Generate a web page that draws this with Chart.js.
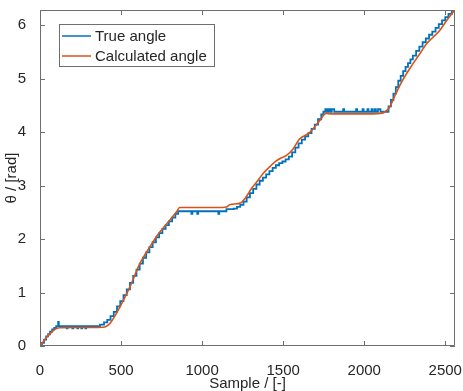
<!DOCTYPE html>
<html>
<head>
<meta charset="utf-8">
<script src="https://cdn.jsdelivr.net/npm/chart.js@4"></script>
<style>
  html, body { margin: 0; padding: 0; background: #fff; }
</style>
</head>
<body>
<canvas id="angleChart" width="463" height="391"></canvas>
<script>
// true angle (encoder, staircase)
var trueX = [0, 12, 25, 38, 50, 62, 75, 88, 100, 112, 116, 165, 170, 200, 205, 230, 235, 255, 260, 280, 285,
  370, 395, 415, 435, 455, 475, 495, 515, 535, 555, 575, 595, 615, 635, 655, 675, 695, 715, 735, 755, 775, 795, 815, 835, 852,
  934, 940, 970, 976, 1100, 1106, 1150, 1195, 1215, 1235, 1255, 1275, 1295, 1315, 1335, 1355, 1375, 1395, 1415, 1435, 1455,
  1475, 1495, 1515, 1535, 1555, 1575, 1595, 1615, 1635, 1655, 1675, 1695, 1715, 1735, 1748,
  1760, 1770, 1780, 1790, 1800, 1815, 1870, 1876, 1950, 1956, 1990, 1996, 2020, 2026, 2045, 2052, 2065, 2072, 2085, 2100,
  2150, 2165, 2180, 2195, 2210, 2225, 2240, 2255, 2270, 2285, 2300, 2320, 2340, 2360, 2380, 2400, 2420, 2440, 2460, 2480,
  2500, 2520, 2540, 2560];
var trueY = [0, 0.06, 0.12, 0.18, 0.22, 0.27, 0.31, 0.34, 0.37, 0.45, 0.37, 0.33, 0.37, 0.33, 0.37, 0.33, 0.37, 0.33, 0.37, 0.33, 0.37,
  0.40, 0.44, 0.49, 0.56, 0.64, 0.74, 0.84, 0.95, 1.06, 1.18, 1.31, 1.43, 1.54, 1.65, 1.75, 1.85, 1.94, 2.03, 2.11, 2.19, 2.26, 2.33, 2.40, 2.47, 2.52,
  2.47, 2.52, 2.47, 2.52, 2.47, 2.52, 2.56, 2.57, 2.60, 2.64, 2.70, 2.78, 2.86, 2.94, 3.02, 3.09, 3.15, 3.21, 3.27, 3.33, 3.38,
  3.42, 3.45, 3.49, 3.54, 3.62, 3.71, 3.79, 3.86, 3.92, 3.98, 4.06, 4.14, 4.24, 4.33, 4.38,
  4.43, 4.38, 4.43, 4.38, 4.43, 4.38, 4.43, 4.38, 4.43, 4.38, 4.43, 4.38, 4.43, 4.38, 4.43, 4.38, 4.43, 4.38, 4.43, 4.38,
  4.48, 4.60, 4.72, 4.84, 4.96, 5.05, 5.14, 5.22, 5.29, 5.36, 5.43, 5.52, 5.60, 5.68, 5.75, 5.82, 5.88, 5.95, 6.02, 6.09,
  6.15, 6.21, 6.27, 6.28];

// calculated angle (smooth)
var calcX = [0, 20, 40, 62, 92, 120, 200, 300, 390, 410, 431, 460, 493, 554, 616, 677, 739, 800, 840, 862,
  900, 1000, 1100, 1150, 1170, 1240, 1270, 1304, 1340, 1375, 1420, 1457, 1490, 1519, 1560, 1601, 1663, 1700, 1724, 1765,
  1800, 1900, 2000, 2100, 2130, 2155, 2195, 2235, 2299, 2340, 2381, 2420, 2463, 2500, 2545, 2560];
var calcY = [0, 0.08, 0.16, 0.23, 0.31, 0.34, 0.345, 0.345, 0.35, 0.37, 0.42, 0.55, 0.73, 1.10, 1.54, 1.85, 2.13, 2.35, 2.50, 2.59,
  2.59, 2.59, 2.59, 2.60, 2.64, 2.68, 2.78, 2.94, 3.08, 3.22, 3.36, 3.46, 3.52, 3.56, 3.68, 3.87, 3.99, 4.12, 4.21, 4.35,
  4.34, 4.34, 4.34, 4.35, 4.38, 4.46, 4.72, 4.96, 5.27, 5.45, 5.64, 5.76, 5.89, 6.05, 6.23, 6.28];

var seriesNames = ['True angle', 'Calculated angle'];
var xTicks = [0, 500, 1000, 1500, 2000, 2500];
var yTicks = [0, 1, 2, 3, 4, 5, 6];

var blue = '#0072BD';
var orange = '#D95319';
var textColor = '#262626';
var axisColor = '#6e6e6e';
var fontFamily = '"Liberation Sans", Arial, Helvetica, sans-serif';

function toPoints(xs, ys) {
    return xs.map(function(x, i) { return { x: x, y: ys[i] }; });
}

// box, inward ticks on all four sides, and legend inside the axes
var framePlugin = {
    id: 'frame',
    afterDatasetsDraw: function(chart) {
        var ctx = chart.ctx;
        var a = chart.chartArea;
        var sx = chart.scales.x, sy = chart.scales.y;
        var tl = 5;
        ctx.save();
        ctx.strokeStyle = axisColor;
        ctx.lineWidth = 1;
        ctx.beginPath();
        ctx.rect(Math.round(a.left) + 0.5, Math.round(a.top) + 0.5,
                 Math.round(a.right - a.left) - 1, Math.round(a.bottom - a.top) - 1);
        xTicks.forEach(function(v) {
            var px = Math.round(sx.getPixelForValue(v)) + 0.5;
            ctx.moveTo(px, a.bottom); ctx.lineTo(px, a.bottom - tl);
            ctx.moveTo(px, a.top); ctx.lineTo(px, a.top + tl);
        });
        yTicks.forEach(function(v) {
            var py = Math.round(sy.getPixelForValue(v)) + 0.5;
            ctx.moveTo(a.left, py); ctx.lineTo(a.left + tl, py);
            ctx.moveTo(a.right, py); ctx.lineTo(a.right - tl, py);
        });
        ctx.stroke();

        // legend
        var lx = 59.5, ly = 24.5, lw = 155, lh = 42;
        ctx.fillStyle = '#fff';
        ctx.fillRect(lx, ly, lw, lh);
        ctx.strokeRect(lx, ly, lw, lh);
        var colors = [blue, orange];
        ctx.font = '15px ' + fontFamily;
        ctx.textBaseline = 'middle';
        seriesNames.forEach(function(name, i) {
            var yy = 36 + i * 20;
            ctx.strokeStyle = colors[i];
            ctx.lineWidth = 1.5;
            ctx.beginPath();
            ctx.moveTo(62, yy); ctx.lineTo(91, yy);
            ctx.stroke();
            ctx.fillStyle = textColor;
            ctx.fillText(name, 95, yy + 1);
        });
        ctx.restore();
    }
};

var ctx = document.getElementById('angleChart').getContext('2d');
var angleChart = new Chart(ctx, {
    type: 'line',
    data: {
        datasets: [{
            label: seriesNames[0],
            data: toPoints(trueX, trueY),
            borderColor: blue,
            borderWidth: 1.8,
            pointRadius: 0,
            stepped: true,
            fill: false,
            order: 2
        }, {
            label: seriesNames[1],
            data: toPoints(calcX, calcY),
            borderColor: orange,
            borderWidth: 1.6,
            pointRadius: 0,
            tension: 0.3,
            cubicInterpolationMode: 'monotone',
            fill: false,
            order: 1
        }]
    },
    options: {
        responsive: false,
        animation: false,
        layout: { padding: { top: 10, right: 8, left: 0, bottom: 0 } },
        plugins: {
            legend: { display: false },
            tooltip: { enabled: false }
        },
        scales: {
            x: {
                type: 'linear',
                min: 0,
                max: 2560,
                grid: { display: false },
                border: { display: false },
                afterBuildTicks: function(scale) {
                    scale.ticks = xTicks.map(function(v) { return { value: v }; });
                },
                afterFit: function(scale) {
                    scale.height = 45;
                    scale.paddingLeft = 0;
                    scale.paddingRight = 0;
                },
                ticks: {
                    color: textColor,
                    font: { family: fontFamily, size: 15 },
                    padding: 8,
                    maxRotation: 0,
                    callback: function(v) { return String(v); }
                },
                title: {
                    display: true,
                    text: 'Sample / [-]',
                    color: textColor,
                    font: { family: fontFamily, size: 15, lineHeight: 1 },
                    padding: { top: 0, bottom: 0 }
                }
            },
            y: {
                type: 'linear',
                min: 0,
                max: 2 * Math.PI,
                grid: { display: false },
                border: { display: false },
                afterBuildTicks: function(scale) {
                    scale.ticks = yTicks.map(function(v) { return { value: v }; });
                },
                afterFit: function(scale) {
                    scale.width = 40;
                    scale.paddingTop = 0;
                    scale.paddingBottom = 0;
                },
                ticks: {
                    color: textColor,
                    font: { family: fontFamily, size: 15 },
                    padding: 6,
                    callback: function(v) { return String(v); }
                },
                title: {
                    display: true,
                    text: 'θ / [rad]',
                    color: textColor,
                    font: { family: fontFamily, size: 15, lineHeight: 1 },
                    padding: { top: 4, bottom: 4 }
                }
            }
        }
    },
    plugins: [framePlugin]
});
</script>
</body>
</html>
